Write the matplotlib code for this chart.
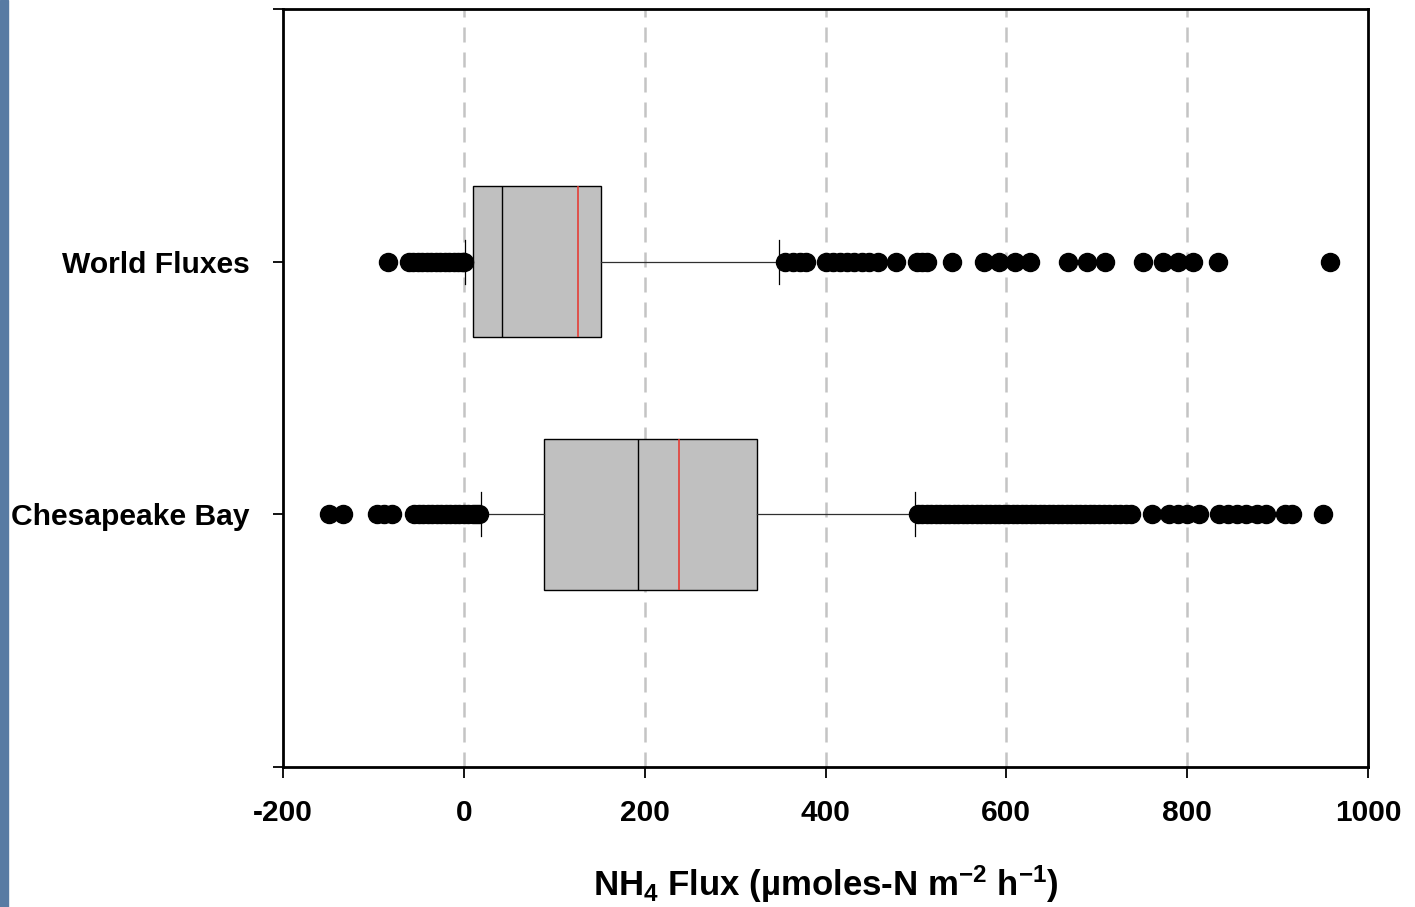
import numpy as np
import matplotlib
matplotlib.use('Agg')
import matplotlib.pyplot as plt
from matplotlib.patches import Rectangle

#---
#       DATA
#---
categories = ['Chesapeake Bay', 'World Fluxes']
positions = [1, 2]

# box statistics
q1 = [89, 10]
median = [193, 42]
mean = [238, 126]
q3 = [324, 152]
whislo = [19, 1]
whishi = [499, 349]

# outliers
fliers_bay = [-149, -134, -96, -88, -80,
              -55, -50, -45, -40, -35, -30, -25, -20, -15, -10, -5, 0, 5, 10, 14, 17,
              502, 507, 512, 517, 522, 527, 532, 537, 542, 547, 552, 557, 562, 567, 572,
              577, 582, 587, 592, 597, 602, 607, 612, 617, 622, 627, 632, 637, 642, 647,
              652, 657, 662, 667, 672, 677, 682, 687, 692, 697, 702, 708, 714, 720, 726,
              732, 738, 761, 780, 790, 800, 813, 835, 845, 855, 865, 877, 887,
              908, 916, 950]
fliers_world = [-84, -61, -56, -51, -46, -41, -36, -31, -26, -21, -16, -11, -6, -2, 0,
                355, 364, 372, 378, 400, 408, 416, 424, 432, 440, 448, 458, 478,
                501, 507, 512, 540, 575, 592, 610, 626, 668, 689, 709, 751, 773,
                790, 806, 834, 958]

xticks = [-200, 0, 200, 400, 600, 800, 1000]
gridx = [0, 200, 400, 600, 800]

#---
#       PLOT
#---
plt.rcParams['font.family'] = ['Liberation Sans', 'DejaVu Sans']
plt.rcParams['font.weight'] = 'bold'
plt.rcParams['mathtext.fontset'] = 'custom'
plt.rcParams['mathtext.rm'] = 'Liberation Sans:bold'
plt.rcParams['mathtext.default'] = 'rm'

fig = plt.figure(figsize=(14.15, 9.07), dpi=100)
fig.set_facecolor('white')
fig.patches.append(Rectangle((0, 0), 8/1415, 1, transform=fig.transFigure,
                             color='#587ba3', zorder=0))

ax = fig.add_axes([0.2, 0.1543, 0.7668, 0.8358])

for g in gridx:
    ax.axvline(g, color='#c4c4c4', lw=1.8, dashes=(6, 4), zorder=0)

stats = []
fl = [fliers_bay, fliers_world]
for i in range(2):
    stats.append(dict(q1=q1[i], med=median[i], mean=mean[i], q3=q3[i],
                      whislo=whislo[i], whishi=whishi[i], fliers=fl[i]))

ax.bxp(stats, positions=positions, vert=False, widths=0.6, capwidths=0.175,
       showmeans=True, meanline=True, patch_artist=True,
       boxprops=dict(facecolor='#c0c0c0', edgecolor='black', linewidth=1),
       medianprops=dict(color='black', linewidth=1),
       meanprops=dict(color='#e8332a', linewidth=1.1, linestyle='-'),
       whiskerprops=dict(color='#303030', linewidth=0.9),
       capprops=dict(color='black', linewidth=0.9),
       flierprops=dict(marker='o', markerfacecolor='black', markeredgecolor='black',
                       markersize=13))

ax.set_xlim(-200, 1000)
ax.set_ylim(0, 3)
ax.set_xticks(xticks)
ax.set_xticklabels([str(t) for t in xticks])
ax.set_yticks([0, 1, 2, 3])
ax.set_yticklabels(['', categories[0], categories[1], ''])

for s in ax.spines.values():
    s.set_linewidth(2)
ax.tick_params(axis='x', direction='out', length=8, width=1.3, labelsize=21.5, pad=15)
ax.tick_params(axis='y', direction='out', length=7, width=1.3, labelsize=21.6, pad=17)

ax.set_xlabel(r'NH$_4$ Flux (µmoles-N m$^{-2}$ h$^{-1}$)', fontsize=25,
              fontweight='bold', labelpad=26)

fig.savefig('out.png', dpi=100, facecolor='white')
